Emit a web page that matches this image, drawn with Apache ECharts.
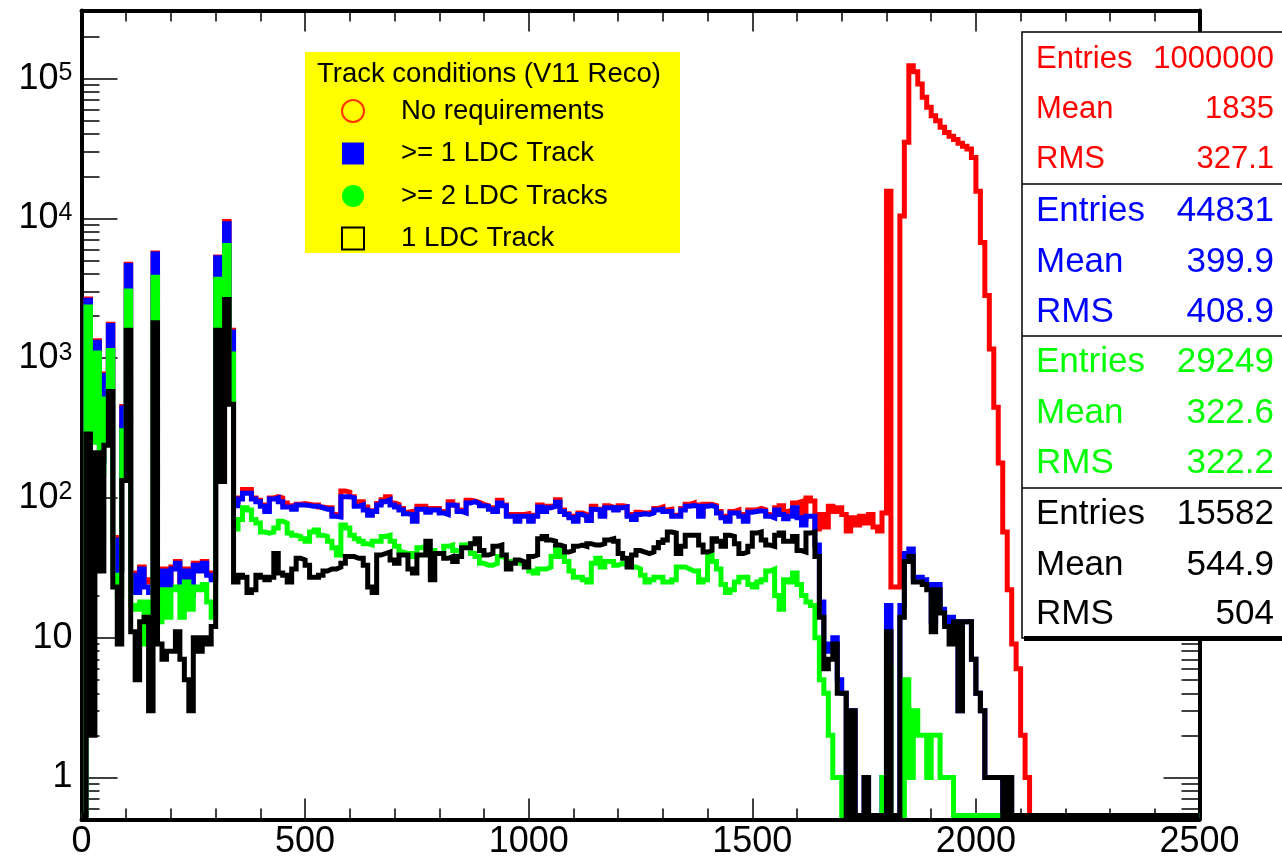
<!DOCTYPE html>
<html>
<head>
<meta charset="utf-8">
<title>Track conditions (V11 Reco)</title>
<script src="https://cdn.jsdelivr.net/npm/echarts@6.0.0/dist/echarts.min.js"></script>
<style>
  html, body { margin: 0; padding: 0; background: #fff; }
  #main { width: 1282px; height: 859px; }
</style>
</head>
<body>
<div id="main"></div>
<script>
// 250 bins of width 10 from 0 to 2500, bin i starts at i*10
var binWidth = 10;
var xMax = 2500;

// counts per bin
var noReq = [
  0, 2650, 260, 1330, 190, 770, 1750, 52, 31, 450,
  4700, 29, 22, 32, 26, 25, 5650, 24, 31, 24,
  32, 35, 23, 31, 21, 34, 31, 35, 29, 27,
  5300, 1250, 9500, 1580, 95, 100, 115, 115, 100, 96,
  89, 82, 100, 102, 100, 92, 88, 85, 90, 91,
  90, 89, 89, 86, 85, 85, 76, 75, 112, 110,
  102, 89, 94, 86, 76, 81, 91, 97, 102, 92,
  90, 84, 79, 80, 69, 87, 87, 81, 84, 84,
  80, 78, 94, 89, 82, 80, 96, 95, 93, 90,
  88, 85, 81, 96, 89, 76, 76, 70, 76, 77,
  70, 75, 89, 81, 87, 88, 97, 82, 77, 74,
  70, 78, 76, 70, 87, 83, 76, 88, 86, 84,
  88, 87, 76, 71, 79, 78, 78, 80, 84, 86,
  82, 83, 75, 76, 84, 90, 92, 89, 76, 90,
  90, 88, 80, 74, 70, 80, 82, 76, 70, 82,
  82, 84, 82, 76, 74, 85, 88, 80, 82, 92,
  94, 70, 100, 95, 60, 76, 62, 87, 80, 85,
  76, 58, 72, 64, 74, 66, 76, 62, 58, 78,
  15600, 23, 23, 10400, 35000, 123600, 112000, 91400, 73500, 62300,
  54300, 50000, 44800, 41200, 38600, 36600, 34400, 32800, 31300, 27300,
  15600, 6730, 2800, 1160, 445, 178, 57, 22, 9, 6,
  2, 1, 0, 0, 0, 0, 0, 0, 0, 0,
  0, 0, 0, 0, 0, 0, 0, 0, 0, 0,
  0, 0, 0, 0, 0, 0, 0, 0, 0, 0,
  0, 0, 0, 0, 0, 0, 0, 0, 0, 0
];

var oneOrMore = [
  0, 2590, 252, 1300, 180, 752, 1710, 50, 30, 439,
  4600, 28, 21, 31, 23, 21, 5570, 23, 30, 23,
  31, 34, 22, 30, 20, 33, 30, 34, 28, 26,
  5220, 1200, 9140, 1535, 88, 98, 108, 108, 98, 94,
  87, 80, 98, 100, 94, 86, 86, 83, 89, 89,
  88, 87, 87, 85, 83, 83, 74, 73, 102, 102,
  100, 87, 89, 82, 75, 80, 89, 94, 97, 89,
  86, 82, 77, 76, 68, 83, 83, 79, 82, 82,
  78, 76, 89, 88, 80, 78, 92, 94, 91, 88,
  87, 83, 80, 92, 88, 74, 74, 68, 74, 74,
  68, 74, 86, 80, 85, 87, 93, 80, 76, 72,
  68, 76, 74, 69, 83, 82, 74, 85, 85, 82,
  85, 86, 74, 70, 76, 77, 76, 78, 82, 83,
  80, 80, 74, 74, 82, 87, 88, 87, 74, 87,
  88, 86, 78, 72, 68, 78, 78, 74, 68, 79,
  80, 81, 80, 74, 72, 82, 76, 71, 74, 85,
  72, 64, 74, 74, 46, 18, 8, 9, 10, 5,
  4, 0, 3, 0, 0, 1, 0, 0, 0, 1,
  17, 0, 0, 17, 40, 43, 27, 27, 26, 24,
  13, 24, 16, 13, 14, 13, 3, 13, 13, 7,
  4, 3, 1, 1, 1, 1, 0, 1, 0, 0,
  0, 0, 0, 0, 0, 0, 0, 0, 0, 0,
  0, 0, 0, 0, 0, 0, 0, 0, 0, 0,
  0, 0, 0, 0, 0, 0, 0, 0, 0, 0,
  0, 0, 0, 0, 0, 0, 0, 0, 0, 0
];

var twoOrMore = [
  0, 2320, 250, 1090, 150, 511, 1135, 28, 20, 302,
  3020, 17, 16, 18, 9, 18, 3790, 13, 22, 14,
  22, 23, 14, 25, 16, 23, 22, 24, 18, 14,
  3660, 1000, 6400, 1070, 60, 70, 85, 82, 70, 66,
  57, 56, 57, 61, 68, 66, 56, 54, 53, 51,
  49, 57, 59, 54, 53, 49, 44, 39, 64, 61,
  54, 51, 49, 47, 46, 49, 49, 53, 54, 49,
  45, 41, 40, 40, 38, 44, 45, 42, 42, 40,
  40, 45, 46, 42, 41, 46, 47, 40, 38, 34,
  33, 33, 34, 38, 37, 35, 35, 34, 34, 33,
  30, 29, 31, 31, 32, 38, 44, 38, 35, 30,
  27, 27, 26, 25, 34, 37, 32, 35, 35, 33,
  34, 33, 32, 32, 31, 28, 25, 26, 27, 27,
  25, 25, 26, 32, 32, 31, 30, 30, 25, 26,
  39, 35, 31, 24, 21, 22, 25, 27, 27, 24,
  23, 25, 26, 30, 31, 20, 16, 26, 25, 29,
  24, 20, 18, 17, 10, 5, 4, 2, 1, 1,
  0, 0, 0, 0, 0, 0, 0, 0, 0, 1,
  6, 0, 0, 0, 5, 1, 3, 2, 2, 1,
  2, 2, 1, 1, 1, 0, 0, 0, 0, 0,
  0, 0, 0, 0, 0, 0, 0, 0, 0, 0,
  0, 0, 0, 0, 0, 0, 0, 0, 0, 0,
  0, 0, 0, 0, 0, 0, 0, 0, 0, 0,
  0, 0, 0, 0, 0, 0, 0, 0, 0, 0,
  0, 0, 0, 0, 0, 0, 0, 0, 0, 0
];

var exactlyOne = [
  0, 286, 2, 210, 30, 238, 578, 23, 9, 133,
  1580, 11, 5, 13, 14, 3, 1790, 9, 7, 8,
  8, 11, 7, 5, 3, 10, 8, 10, 9, 12,
  1580, 131, 2630, 468, 25, 28, 27, 21, 22, 28,
  27, 26, 27, 40, 29, 28, 25, 31, 37, 36,
  33, 27, 27, 28, 30, 31, 31, 32, 34, 38,
  38, 37, 37, 33, 23, 21, 39, 40, 41, 36,
  34, 39, 39, 31, 29, 39, 39, 49, 26, 40,
  40, 37, 38, 35, 38, 44, 44, 47, 51, 42,
  39, 40, 45, 46, 39, 31, 34, 36, 35, 32,
  38, 39, 51, 53, 50, 49, 46, 45, 41, 42,
  45, 46, 45, 47, 46, 46, 47, 50, 51, 49,
  40, 37, 32, 39, 42, 41, 40, 41, 44, 48,
  50, 57, 56, 40, 45, 54, 54, 54, 46, 41,
  42, 51, 49, 45, 54, 53, 47, 40, 41, 45,
  56, 57, 50, 46, 45, 54, 56, 49, 49, 53,
  42, 41, 56, 57, 38, 14, 6, 7, 9, 4,
  4, 0, 3, 0, 0, 1, 0, 0, 0, 0,
  11, 0, 0, 14, 35, 38, 25, 25, 24, 22,
  11, 22, 15, 12, 9, 13, 3, 13, 13, 7,
  4, 3, 1, 1, 1, 1, 0, 1, 0, 0,
  0, 0, 0, 0, 0, 0, 0, 0, 0, 0,
  0, 0, 0, 0, 0, 0, 0, 0, 0, 0,
  0, 0, 0, 0, 0, 0, 0, 0, 0, 0,
  0, 0, 0, 0, 0, 0, 0, 0, 0, 0
];

var seriesNames = ['No requirements', '>= 1 LDC Track', '>= 2 LDC Tracks', '1 LDC Track'];
var seriesColors = ['#ff0000', '#0000ff', '#00ff00', '#000000'];
var legendTitle = 'Track conditions (V11 Reco)';

// stats boxes, one per histogram
var statLabels = ['Entries', 'Mean', 'RMS'];
var statValues = [
  ['1000000', '1835', '327.1'],
  ['44831', '399.9', '408.9'],
  ['29249', '322.6', '322.2'],
  ['15582', '544.9', '504']
];

var FONT = '"Liberation Sans", Arial, Helvetica, sans-serif';
var zeroLevel = 0.535;   // empty bins are drawn on the bottom of the frame

function toSteps(counts) {
  var pts = counts.map(function (c, i) {
    return [i * binWidth, c > 0 ? c : zeroLevel];
  });
  pts.push([xMax, pts[pts.length - 1][1]]);
  return pts;
}

var allCounts = [noReq, oneOrMore, twoOrMore, exactlyOne];

var series = allCounts.map(function (counts, k) {
  return {
    name: seriesNames[k],
    type: 'line',
    step: 'end',
    data: toSteps(counts),
    symbol: 'none',
    showSymbol: false,
    silent: true,
    animation: false,
    lineStyle: { color: seriesColors[k], width: 5, join: 'miter', cap: 'butt' },
    itemStyle: { color: seriesColors[k] }
  };
});

function decadeLabel(v) {
  var e = Math.round(Math.log10(v));
  if (Math.abs(v - Math.pow(10, e)) > 1e-6 * v) return '';
  if (e === 0) return '{b|1}';
  if (e === 1) return '{b|10}';
  return '{b|10}{s|' + e + '}';
}

// legend box background and stats boxes
var graphics = [
  { type: 'rect', z: 1, shape: { x: 305, y: 52, width: 375, height: 201 }, style: { fill: '#ffff00' } },
  { type: 'rect', z: 50, shape: { x: 1022, y: 32, width: 290, height: 606 }, style: { fill: '#fff', stroke: '#000', lineWidth: 1.5 } },
  { type: 'rect', z: 51, shape: { x: 1024, y: 636, width: 290, height: 5 }, style: { fill: '#000' } }
];
[184, 336, 488].forEach(function (y) {
  graphics.push({ type: 'line', z: 51, shape: { x1: 1022, y1: y, x2: 1282, y2: y }, style: { stroke: '#000', lineWidth: 1.5 } });
});
var rowY = [[59, 109, 159], [211, 262, 312], [362, 413, 463], [514, 565, 614]];
statValues.forEach(function (vals, k) {
  var fs = k === 0 ? 31 : 35;
  statLabels.forEach(function (lab, j) {
    graphics.push({ type: 'text', z: 52, x: 1036, y: rowY[k][j],
      style: { text: lab, fill: seriesColors[k], font: fs + 'px ' + FONT, textAlign: 'left', textVerticalAlign: 'middle' } });
    graphics.push({ type: 'text', z: 52, x: 1274, y: rowY[k][j],
      style: { text: vals[j], fill: seriesColors[k], font: fs + 'px ' + FONT, textAlign: 'right', textVerticalAlign: 'middle' } });
  });
});

var chart = echarts.init(document.getElementById('main'), null, { renderer: 'canvas' });

var xAxisBase = {
  type: 'value', min: 0, max: xMax, interval: 500,
  axisLine: { show: true, onZero: false, lineStyle: { color: '#000', width: 4 } },
  axisTick: { show: true, inside: true, length: 21, lineStyle: { color: '#000', width: 1.5 } },
  minorTick: { show: true, splitNumber: 5, length: 11, lineStyle: { color: '#000', width: 1.5 } },
  splitLine: { show: false }
};
var yAxisBase = {
  type: 'log', logBase: 10, min: 0.5, max: 307000,
  axisLine: { show: true, onZero: false, lineStyle: { color: '#000', width: 4 } },
  axisTick: { show: true, inside: true, length: 36, lineStyle: { color: '#000', width: 1.5 } },
  minorTick: { show: true, splitNumber: 9, length: 18, lineStyle: { color: '#000', width: 1.5 } },
  splitLine: { show: false }
};

chart.setOption({
  animation: false,
  backgroundColor: '#fff',
  textStyle: { fontFamily: FONT },
  grid: { left: 81.5, right: 82.5, top: 10.5, bottom: 39.5, containLabel: false, outerBoundsMode: 'none' },
  title: {
    text: legendTitle, left: 317, top: 60, padding: 0,
    textStyle: { fontSize: 27.5, fontWeight: 'normal', color: '#000', fontFamily: FONT }
  },
  legend: {
    orient: 'vertical', left: 341, top: 97, padding: 0,
    itemWidth: 22, itemHeight: 22, itemGap: 14.5,
    selectedMode: false,
    textStyle: { fontSize: 27.5, color: '#000', fontFamily: FONT, padding: [0, 0, 0, 32] },
    data: [
      { name: seriesNames[0], icon: 'circle', itemStyle: { color: 'rgba(0,0,0,0)', borderColor: '#ff3300', borderWidth: 2 } },
      { name: seriesNames[1], icon: 'rect', itemStyle: { color: '#0000ff', borderWidth: 0 } },
      { name: seriesNames[2], icon: 'circle', itemStyle: { color: '#00ff00', borderWidth: 0 } },
      { name: seriesNames[3], icon: 'rect', itemStyle: { color: 'rgba(0,0,0,0)', borderColor: '#000', borderWidth: 2 } }
    ]
  },
  xAxis: [
    Object.assign({}, xAxisBase, {
      position: 'bottom',
      axisLabel: {
        show: true, margin: 5, fontSize: 36, color: '#000', fontFamily: FONT,
        formatter: function (v) { return String(v); }
      }
    }),
    Object.assign({}, xAxisBase, { position: 'top', axisLabel: { show: false } })
  ],
  yAxis: [
    Object.assign({}, yAxisBase, {
      position: 'left',
      axisLabel: {
        show: true, margin: 9, color: '#000', formatter: decadeLabel,
        rich: {
          b: { fontSize: 36, color: '#000', fontFamily: FONT },
          s: { fontSize: 25, color: '#000', fontFamily: FONT, verticalAlign: 'top' }
        }
      }
    }),
    Object.assign({}, yAxisBase, { position: 'right', axisLabel: { show: false } })
  ],
  series: series,
  graphic: graphics
});
</script>
</body>
</html>
